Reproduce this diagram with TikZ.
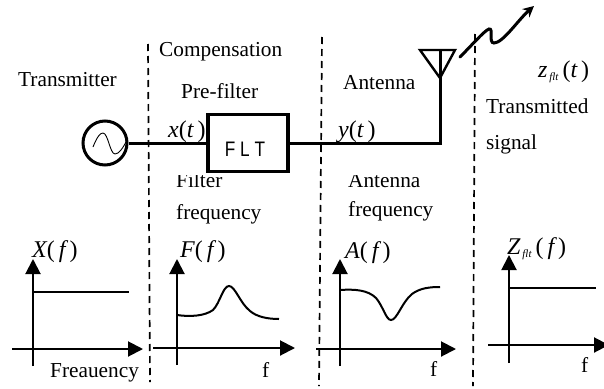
\documentclass[tikz,border=0pt]{standalone}
\usepackage{fontspec}
\setmainfont{Liberation Serif}
\setsansfont{Liberation Sans}
\usetikzlibrary{arrows.meta}
\tikzset{
 lbl/.style={anchor=base west,inner sep=0pt,font=\fontsize{21.3}{24}\selectfont},
 mth/.style={anchor=base west,inner sep=0pt,font=\fontsize{24}{26}\selectfont\itshape},
 wire/.style={line width=3pt},
 divider/.style={line width=1.7pt,dash pattern=on 7pt off 5pt},
 axis/.style={line width=2pt,-{Triangle[length=15pt,width=15pt]}},
 curve/.style={line width=2pt}
}
\begin{document}
\begin{tikzpicture}[x=1pt,y=-1pt]
\useasboundingbox (0,0) rectangle (604,388);
\fill[white] (0,0) rectangle (604,388);
% clipped labels
\node[lbl] (filtlbl) at (176,187) {Filter};
\node[lbl] (antlbl2) at (348,187) {Antenna};
\fill[white] (170,155) rectangle (290,175);
\fill[white] (340,150) rectangle (436,175);
% dividers
\coordinate (d1a) at (148,44); \coordinate (d1b) at (150,382);
\coordinate (d2a) at (322,37); \coordinate (d2b) at (319,386);
\coordinate (d3a) at (475,34); \coordinate (d3b) at (473,386);
\draw[divider] (d1a) -- (d1b);
\draw[divider] (d2a) -- (d2b);
\draw[divider] (d3a) -- (d3b);
% block chain
\node[draw,circle,line width=3pt,minimum size=44pt,inner sep=0pt,fill=white] (osc) at (105,143) {};
\draw[line width=.9pt] (93,147) .. controls (97,137) and (100,133) .. (103,133) .. controls (108,133) and (110,154) .. (115,154) .. controls (119,154) and (123,148) .. (127,140);
\node[draw,line width=3.2pt,minimum width=80pt,minimum height=57pt,inner sep=0pt,fill=white] (flt) at (248,143) {};
\node[anchor=base,inner sep=0pt,xscale=.82,font=\fontsize{21}{24}\selectfont\sffamily] (fltlbl) at (245,156) {F L T};
\coordinate (feed) at (440,143);
\coordinate (anttop) at (440,50);
\coordinate (antl) at (420,50); \coordinate (antr) at (455,50); \coordinate (antb) at (440,78);
\draw[wire] (osc.east) -- (flt.west);
\draw[wire] (flt.east) -- (feed) -- (anttop);
\draw[line width=2.4pt,line join=miter] (antl) -- (antr) -- (antb) -- cycle;
% radiated signal
\coordinate (z0) at (460,57); \coordinate (z1) at (534,6);
\draw[line width=3pt,line cap=round,-{Stealth[length=11pt,width=11pt]}] (z0) .. controls (472,45) and (484,31) .. (489,29) .. controls (494,28) and (488,43) .. (494,43) .. controls (503,43) and (518,20) .. (z1);
% top labels
\node[lbl] (tx) at (18,86) {Transmitter};
\node[lbl] (comp) at (159,56) {Compensation};
\node[lbl] (pre) at (181,98) {Pre-filter};
\node[mth] (xt) at (168,137) {x{\upshape(}t\,{\upshape)}};
\node[lbl] (filtf) at (176,219) {frequency};
\node[lbl] (ant) at (343,89) {Antenna};
\node[mth] (yt) at (338,137) {y{\upshape(}t\,{\upshape)}};
\node[lbl] (antf) at (348,216) {frequency};
\node[mth] (zt) at (538,77) {z\raisebox{-3pt}{\fontsize{11}{11}\selectfont\,flt}\,{\upshape(}t\,{\upshape)}};
\node[lbl] (tr) at (486,113) {Transmitted};
\node[lbl] (sig) at (486,149) {signal};
% chart 1
\coordinate (ay1a) at (33,366); \coordinate (ay1b) at (33,259);
\coordinate (ax1a) at (12,349); \coordinate (ax1b) at (143,349);
\draw[axis] (ay1a) -- (ay1b);
\draw[axis] (ax1a) -- (ax1b);
\coordinate (c1a) at (33,292); \coordinate (c1b) at (129,292);
\draw[curve] (c1a) -- (c1b);
\node[mth] (lx) at (32,257) {X{\upshape(\,}f\,{\upshape)}};
\node[lbl] (lfreq) at (50,377) {Freauency};
% chart 2
\coordinate (ay2a) at (177,365); \coordinate (ay2b) at (177,259);
\coordinate (ax2a) at (153,348); \coordinate (ax2b) at (295,348);
\draw[axis] (ay2a) -- (ay2b);
\draw[axis] (ax2a) -- (ax2b);
\draw[curve] (177,315) .. controls (190,317) and (205,316) .. (213,310) .. controls (220,303) and (223,286) .. (229,286) .. controls (235,286) and (240,303) .. (250,311) .. controls (257,317) and (268,319) .. (279,319);
\node[mth] (lf) at (180,257) {F{\upshape(\,}f\,{\upshape)}};
\node[lbl] (f2) at (262,377) {f};
% chart 3
\coordinate (ay3a) at (340,366); \coordinate (ay3b) at (340,259);
\coordinate (ax3a) at (316,349); \coordinate (ax3b) at (456,349);
\draw[axis] (ay3a) -- (ay3b);
\draw[axis] (ax3a) -- (ax3b);
\draw[curve] (340,290) .. controls (355,289) and (368,290) .. (376,298) .. controls (383,306) and (386,320) .. (391,320) .. controls (397,320) and (402,302) .. (412,294) .. controls (420,288) and (430,287) .. (440,287);
\node[mth] (la) at (345,258) {A{\upshape(\,}f\,{\upshape)}};
\node[lbl] (f3) at (430,376) {f};
% chart 4
\coordinate (ay4a) at (509,363); \coordinate (ay4b) at (509,255);
\coordinate (ax4a) at (488,345); \coordinate (ax4b) at (609,345);
\draw[axis] (ay4a) -- (ay4b);
\draw[axis] (ax4a) -- (ax4b);
\coordinate (c4a) at (509,288); \coordinate (c4b) at (596,288);
\draw[curve] (c4a) -- (c4b);
\node[mth] (lz) at (507,254) {Z\raisebox{-3pt}{\fontsize{11}{11}\selectfont\,flt}\,{\upshape(\,}f\,{\upshape)}};
\node[lbl] (f4) at (581,372) {f};
\end{tikzpicture}
\end{document}
